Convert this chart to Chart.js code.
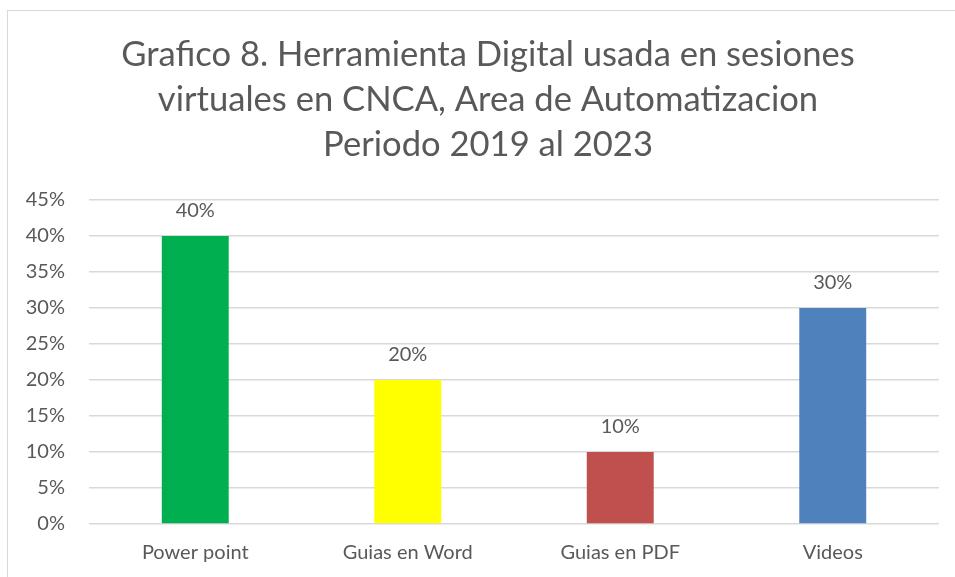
<!DOCTYPE html>
<html>
<head>
<meta charset="utf-8">
<script src="https://cdn.jsdelivr.net/npm/chart.js@4"></script>
<style>
html,body{margin:0;padding:0;background:#fff;overflow:hidden;}
#frame{position:absolute;left:7px;top:10px;width:960px;height:580px;border:1px solid #d9d9d9;box-sizing:border-box;}
#wrap{position:absolute;left:0;top:0;width:955px;height:577px;}
</style>
</head>
<body>
<div id="frame"></div>
<div id="wrap"><canvas id="c" width="955" height="577"></canvas></div>
<script>
const categories = ["Power point", "Guias en Word", "Guias en PDF", "Videos"];
const values = [40, 20, 10, 30];
const barColors = ["#00B050", "#FFFF00", "#C0504D", "#4F81BD"];
const titleLines = ["Grafico 8. Herramienta Digital usada en sesiones", "virtuales en CNCA, Area de Automatizacion", "Periodo 2019 al 2023"];
const yMax = 45, yStep = 5;

const FONT = "Lato, 'Open Sans', sans-serif";
const TEXT = "#595959";

const valueLabels = {
  id: 'valueLabels',
  afterDatasetsDraw(chart) {
    const ctx = chart.ctx;
    const meta = chart.getDatasetMeta(0);
    ctx.save();
    ctx.font = "20px " + FONT;
    ctx.fillStyle = TEXT;
    ctx.textAlign = 'center';
    ctx.textBaseline = 'alphabetic';
    meta.data.forEach((bar, i) => {
      ctx.fillText(values[i] + '%', bar.x, bar.y - 19);
    });
    ctx.restore();
  }
};

const titleDraw = {
  id: 'titleDraw',
  afterDraw(chart) {
    const ctx = chart.ctx;
    ctx.save();
    ctx.font = "34.6px " + FONT;
    ctx.fillStyle = TEXT;
    ctx.textAlign = 'center';
    ctx.textBaseline = 'alphabetic';
    titleLines.forEach((line, i) => {
      ctx.fillText(line, 488, 66 + i * 45);
    });
    ctx.restore();
  }
};

new Chart(document.getElementById('c'), {
  type: 'bar',
  data: {
    labels: categories,
    datasets: [{
      data: values,
      backgroundColor: barColors,
      borderWidth: 0,
      barPercentage: 0.63,
      categoryPercentage: 0.5
    }]
  },
  options: {
    responsive: false,
    animation: false,
    devicePixelRatio: 1,
    layout: { padding: { left: 8, right: 16, top: 200, bottom: 0 } },
    plugins: {
      legend: { display: false },
      tooltip: { enabled: false },
      title: { display: false }
    },
    scales: {
      x: {
        grid: { display: false, drawTicks: false },
        border: { display: false },
        ticks: { color: TEXT, font: { family: FONT, size: 20 }, padding: 17 },
        afterFit: s => { s.height = 53; }
      },
      y: {
        min: 0, max: yMax,
        grid: { color: "#D9D9D9", lineWidth: 1.5, drawTicks: false },
        border: { display: false },
        ticks: {
          stepSize: yStep,
          color: TEXT,
          font: { family: FONT, size: 20 },
          padding: 24,
          callback: v => v + '%'
        },
        afterFit: s => { s.width = 81; }
      }
    }
  },
  plugins: [valueLabels, titleDraw]
});
</script>
</body>
</html>
